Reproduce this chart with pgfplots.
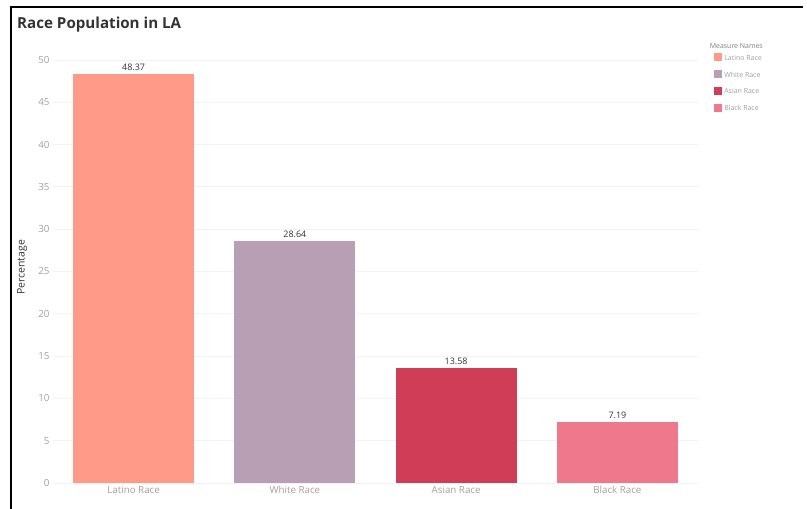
\documentclass[border=0pt]{standalone}
\usepackage{fontspec}
\setmainfont{Open Sans}
\usepackage{pgfplots}
\pgfplotsset{compat=1.18}
\definecolor{cLat}{HTML}{FE9A87}
\definecolor{cWhi}{HTML}{B89FB4}
\definecolor{cAsi}{HTML}{D03D56}
\definecolor{cBla}{HTML}{EF788D}
\definecolor{tickgray}{HTML}{A0A0A0}
\definecolor{titlegray}{HTML}{333333}
\begin{document}
\begin{tikzpicture}[x=1bp,y=1bp]
\useasboundingbox (0,0) rectangle (807,509);
\draw[line width=2bp] (11,0) -- (11,502) -- (803,502);
\node[anchor=west, font=\bfseries\fontsize{15.2}{16}\selectfont, text=titlegray, inner sep=0pt] at (17,484) {Race Population in LA};
\begin{axis}[
  at={(53bp,26bp)}, anchor=south west, scale only axis,
  width=645bp, height=431.5bp, clip=false,
  xmin=-0.5, xmax=3.5, ymin=0, ymax=51,
  ytick={0,5,...,50}, xtick={0,1,2,3},
  xticklabels={Latino Race, White Race, Asian Race, Black Race},
  axis line style={draw=none}, major tick length=0pt,
  ymajorgrids, grid style={line width=0.8bp, gray!10},
  /pgf/number format/assume math mode=true,
  tick label style={font=\fontsize{9.8}{11}\selectfont, text=tickgray},
  ylabel={Percentage},
  every axis y label/.style={at={(axis description cs:-0.048,0.5)}, anchor=center, rotate=90, font=\fontsize{10.5}{11}\selectfont, text=titlegray},
  ybar, bar width=0.75, bar shift=0pt,
  nodes near coords,
  every node near coord/.append style={font=\fontsize{9}{10}\selectfont, text=titlegray, /pgf/number format/.cd, fixed, precision=2, fixed zerofill},
  legend style={at={(axis description cs:1.025,0.9965)}, anchor=north west, draw=none, fill=none, font=\fontsize{7}{8}\selectfont, text=tickgray, row sep=6bp, inner sep=0pt, cells={anchor=west}},
  legend image code/.code={\fill[#1] (0bp,-3bp) rectangle (8bp,5bp);},
]
\addplot[draw=none, fill=cLat] coordinates {(0,48.37)};
\addplot[draw=none, fill=cWhi] coordinates {(1,28.64)};
\addplot[draw=none, fill=cAsi] coordinates {(2,13.58)};
\addplot[draw=none, fill=cBla] coordinates {(3,7.19)};
\legend{Latino Race, White Race, Asian Race, Black Race}
\node[anchor=west, inner sep=0pt, font=\fontsize{7}{8}\selectfont, text=gray] at (axis description cs:1.018,1.013) {Measure Names};
\end{axis}
\end{tikzpicture}
\end{document}
